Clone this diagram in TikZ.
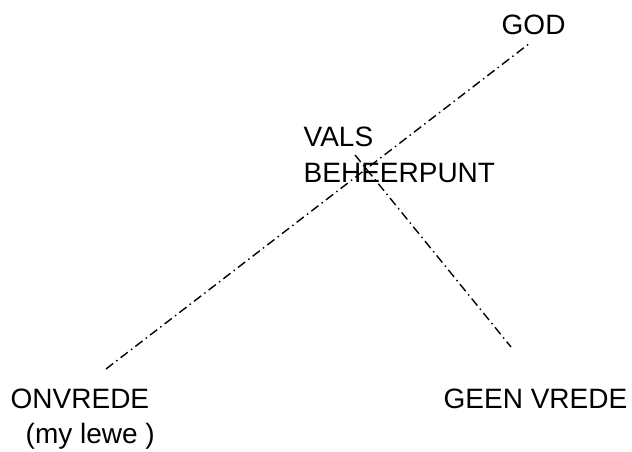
\documentclass[tikz,border=0pt]{standalone}
\usepackage{fontspec}
\setmainfont{Liberation Sans}
\begin{document}
\begin{tikzpicture}[x=1pt,y=-1pt,
  lbl/.style={inner sep=0pt, font=\fontsize{28}{36}\selectfont, align=left, anchor=base west},
  dd/.style={line width=1.4pt, dash pattern=on 9pt off 4pt on 1.5pt off 4pt}]
\useasboundingbox (0,0) rectangle (632,452);
\node[lbl] (god) at (501.5,35) {GOD};
\node[lbl] (vals) at (303.5,182) {VALS\\BEHEERPUNT};
\node[lbl, font=\fontsize{28}{35}\selectfont] (onv) at (10.5,443) {ONVREDE\\\hspace{15pt}(my lewe )};
\node[lbl] (geen) at (443.5,408) {GEEN VREDE};
\coordinate (a) at (106,369);
\coordinate (b) at (530,43);
\coordinate (c) at (355,155);
\coordinate (d) at (511,347);
\draw[dd] (a) -- (b);
\draw[dd] (c) -- (d);
\end{tikzpicture}
\end{document}
